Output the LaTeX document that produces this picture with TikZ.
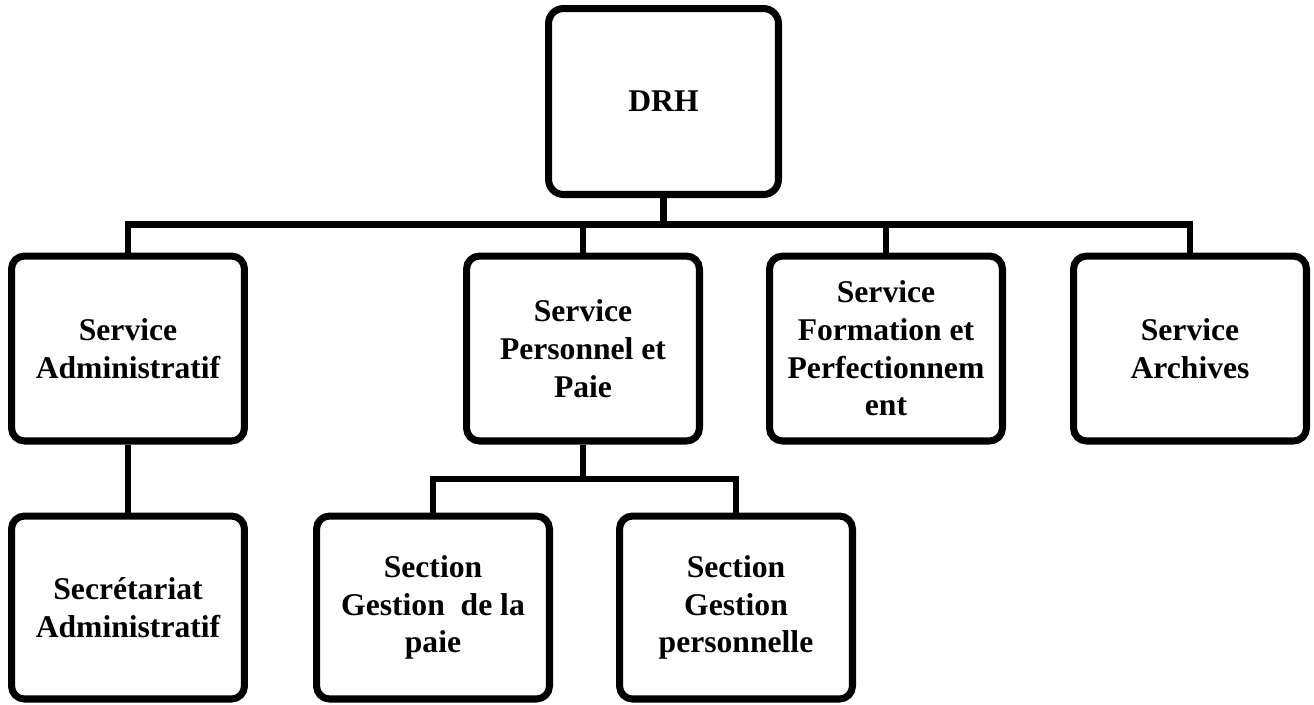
\documentclass[tikz,border=0pt]{standalone}
\usepackage{fontspec}
\setmainfont{Liberation Serif}
\begin{document}
\begin{tikzpicture}[x=0.02cm,y=-0.02cm,
  orgbox/.style={draw=black, line width=4pt, rounded corners=0.26cm,
    minimum width=4.66cm, minimum height=3.7cm, align=center, inner sep=2pt,
    font=\fontsize{18}{21.5}\selectfont\bfseries},
  link/.style={draw=black, line width=3.9pt}]
\useasboundingbox (0,0) rectangle (1314,704);

% top of the chart
\node[orgbox, minimum width=4.6cm, minimum height=3.72cm, rounded corners=0.3cm] (drh) at (663.5,101.5) {DRH};

% services
\node[orgbox] (admin) at (128,348.5) {Service\\Administratif};
\node[orgbox] (pers)  at (583,348.5) {Service\\Personnel et\\Paie};
\node[orgbox] (form)  at (886,348.5) {Service\\Formation et\\Perfectionnem\\ent};
\node[orgbox] (arch)  at (1190,348.5) {Service\\Archives};

% sections
\node[orgbox, minimum height=3.66cm] (secr)  at (128,607.5) {Secrétariat\\Administratif};
\node[orgbox, minimum height=3.66cm] (paie)  at (433,607.5) {Section\\Gestion\ \ de la\\paie};
\node[orgbox, minimum height=3.66cm] (gpers) at (736,607.5) {Section\\Gestion\\personnelle};

% bus lines
\coordinate (bus) at (663.5,224.5);
\coordinate (sub) at (583,479);

\draw[link] (drh.south) -- (bus);
\draw[link] (admin.north) |- (bus) -| (arch.north);
\draw[link] (pers.north) -- (pers.north |- bus);
\draw[link] (form.north) -- (form.north |- bus);

\draw[link] (admin.south) -- (secr.north);

\draw[link] (pers.south) -- (sub);
\draw[link] (paie.north) |- (sub) -| (gpers.north);
\end{tikzpicture}
\end{document}
